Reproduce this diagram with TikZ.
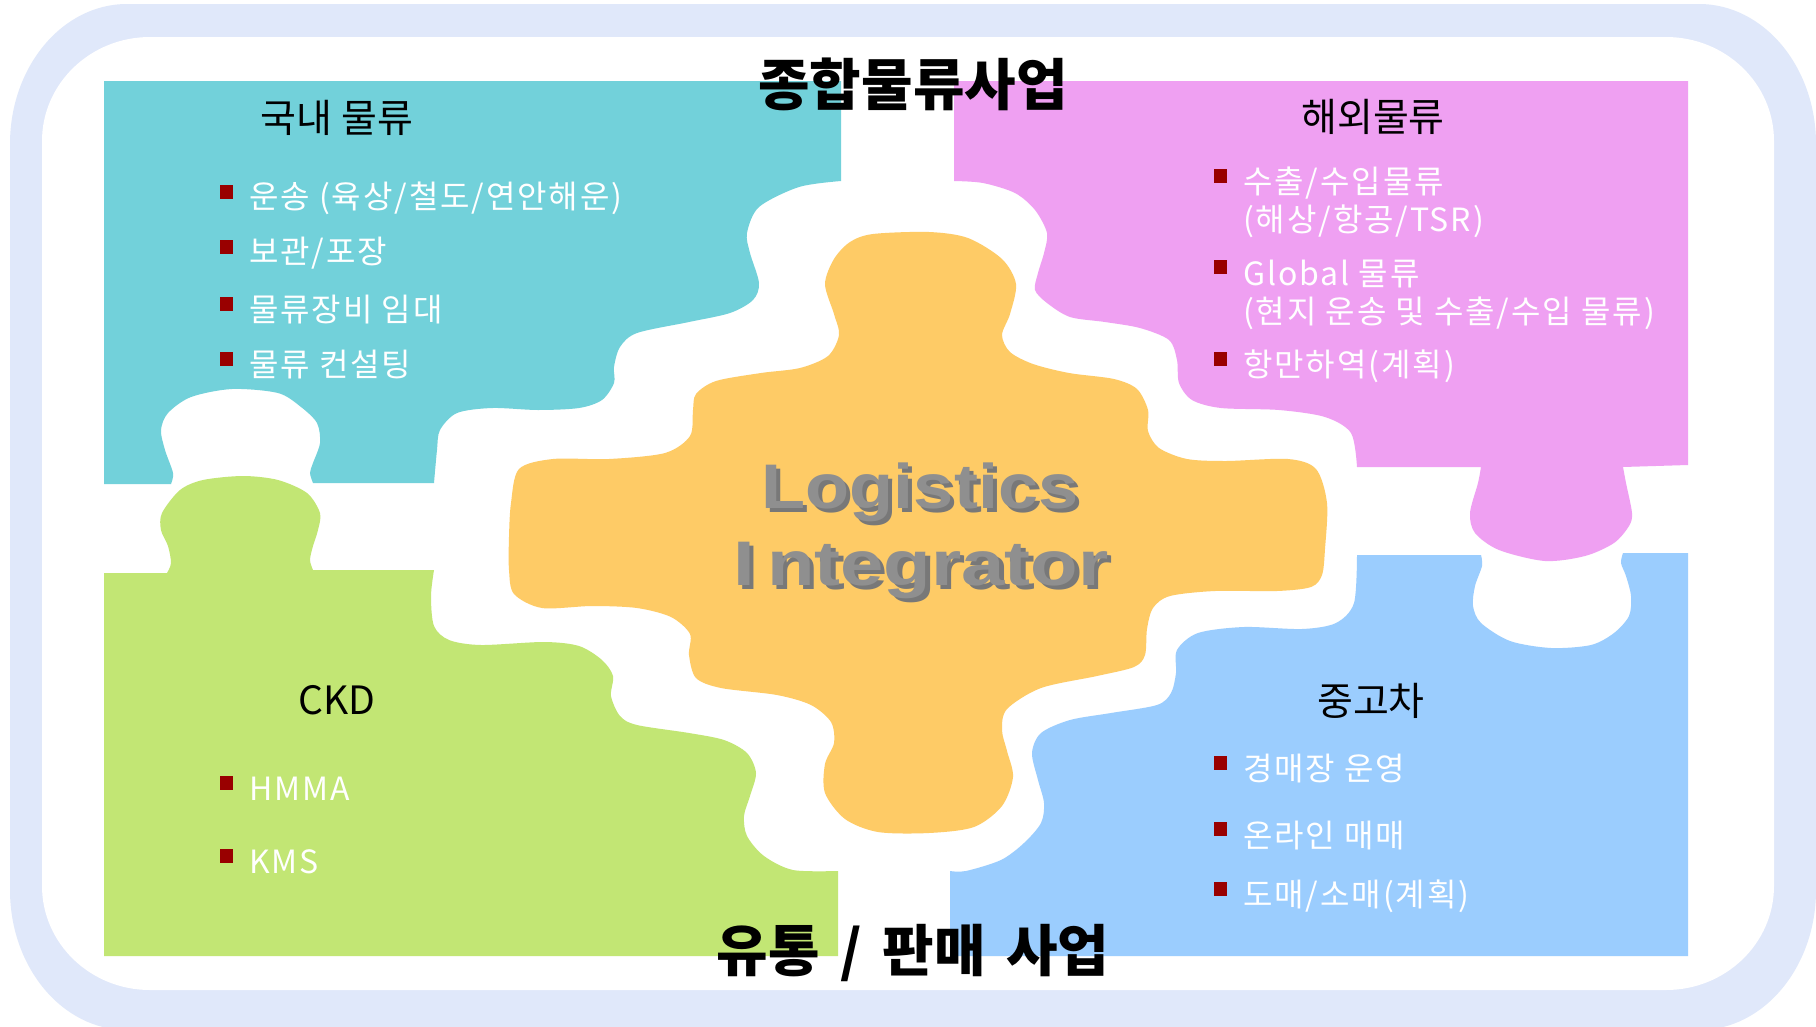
\documentclass[tikz,border=0pt]{standalone}
\usepackage{fontspec}
\setmainfont{Noto Sans CJK KR}
\newfontfamily\lgfont{Liberation Sans}
\newfontfamily\itemfont[LetterSpace=6]{Noto Sans CJK KR}
\newfontfamily\titlefont[WordSpace=1.6]{Noto Sans CJK KR}
\usepackage{graphicx}
\definecolor{framecol}{HTML}{E0E8FA}
\definecolor{tealp}{HTML}{72D1DA}
\definecolor{pinkp}{HTML}{EFA0F2}
\definecolor{greenp}{HTML}{C2E674}
\definecolor{bluep}{HTML}{9BCDFE}
\definecolor{orangep}{HTML}{FECB66}
\definecolor{bulred}{HTML}{990000}
\definecolor{lgfront}{HTML}{8F8F8F}
\definecolor{lgshadow}{HTML}{787878}
\newcommand{\shadowtext}[1]{\rlap{\kern3.5pt\raisebox{-4pt}{\textcolor{lgshadow}{#1}}}\textcolor{lgfront}{#1}}
\tikzset{
  head/.style={font=\fontsize{39}{44}\selectfont, text=black, inner sep=0pt},
  item/.style={font=\itemfont\fontsize{32}{36}\selectfont, text=white, anchor=west, inner sep=0pt},
  bul/.style={fill=bulred, minimum width=13pt, minimum height=14pt, inner sep=0pt, anchor=north west},
  bigtitle/.style={font=\titlefont\fontsize{56}{60}\selectfont\bfseries, text=black, inner sep=0pt},
  lgtext/.style={font=\fontsize{63}{66}\selectfont\lgfont\bfseries, inner sep=0pt, anchor=base},
}
\begin{document}
\begin{tikzpicture}[x=1pt,y=-1pt]
\useasboundingbox (0,0) rectangle (1816,1026);
\clip (0,0) rectangle (1816,1026);
\fill[white] (0,0) rectangle (1816,1026);
% frame
\fill[framecol] (127,4) -- (1699,4) .. controls (1763.6,4) and (1816,66.7) .. (1816,144)
  -- (1816,890) .. controls (1816,967.3) and (1763.6,1030) .. (1699,1030)
  -- (127,1030) .. controls (62.4,1030) and (10,967.3) .. (10,890)
  -- (10,144) .. controls (10,66.7) and (62.4,4) .. (127,4) -- cycle;
\fill[white] (150,37) -- (1666,37) .. controls (1725.6,37) and (1774,83.6) .. (1774,141)
  -- (1774,886) .. controls (1774,943.4) and (1725.6,990) .. (1666,990)
  -- (150,990) .. controls (90.4,990) and (42,943.4) .. (42,886)
  -- (42,141) .. controls (42,83.6) and (90.4,37) .. (150,37) -- cycle;
% teal piece
\fill[tealp] (104,81) -- (841,81) -- (841,181)
  -- plot[smooth] coordinates {(841,181) (799,187) (759,207) (747,233) (750,253) (759,283) (753,300) (730,313) (689,322) (637,333) (620,347) (614,367) (614,383) (602,400) (579,408) (538,410) (492,408) (457,413) (440,430) (437,450) (434,483)}
  -- (313,483)
  -- plot[smooth] coordinates {(313,483) (310,473) (313,463) (320,443) (317,423) (301,407) (278,393) (232,389) (191,397) (168,413) (161,430) (165,450) (173,473) (171,484)}
  -- (104,484) -- cycle;
% pink piece
\fill[pinkp] (954,81) -- (1688,81) -- (1688,465) -- (1623,467)
  -- plot[smooth] coordinates {(1623,467) (1626,483) (1632,513) (1629,526) (1614,543) (1585,556) (1545,561) (1499,550) (1475,533) (1470,513) (1478,483) (1481,467)}
  -- (1357,467)
  -- plot[smooth] coordinates {(1357,467) (1351,433) (1325,417) (1279,410) (1221,408) (1192,400) (1179,383) (1177,360) (1169,340) (1140,328) (1105,322) (1070,317) (1047,303) (1035,290) (1038,273) (1044,253) (1047,233) (1035,210) (1015,193) (983,183) (954,181)}
  -- cycle;
% green piece
\fill[greenp] (104,573) -- (167,573)
  -- plot[smooth] coordinates {(167,573) (171,563) (168,546) (161,530) (162,513) (180,490) (203,480) (243,476) (278,480) (307,493) (320,513) (318,530) (313,546) (310,560) (313,570)}
  -- (434,570)
  -- plot[smooth] coordinates {(434,570) (431,596) (434,626) (449,640) (481,645) (544,642) (579,646) (602,660) (613,676) (611,696) (620,716) (637,725) (689,733) (724,740) (747,753) (756,773) (750,796) (744,816) (747,836) (764,856) (793,870) (838,871)}
  -- (838,956) -- (104,956) -- cycle;
% blue piece
\fill[bluep] (1357,555) -- (1481,555)
  -- plot[smooth] coordinates {(1481,555) (1482,566) (1475,586) (1473,606) (1481,623) (1510,641) (1551,648) (1591,645) (1614,633) (1629,616) (1631,596) (1626,576) (1621,563) (1623,553)}
  -- (1688,553) -- (1688,956) -- (950,956) -- (950,871)
  -- plot[smooth] coordinates {(950,871) (966,871) (1001,860) (1024,843) (1041,823) (1044,803) (1038,780) (1032,753) (1041,733) (1070,720) (1111,713) (1157,705) (1171,693) (1176,673) (1177,650) (1198,633) (1244,627) (1302,629) (1336,623) (1354,603) (1357,555)}
  -- cycle;
% orange centre piece
\fill[orangep] plot[smooth cycle] coordinates {(873,234) (929,232) (968,238) (1002,259) (1016,284) (1010,314) (1002,335) (1010,352) (1033,364) (1069,373) (1114,379) (1137,389) (1148,410) (1148,431) (1159,448) (1187,459) (1226,461) (1288,459) (1316,469) (1327,503) (1325,549) (1322,575) (1311,587) (1277,591) (1215,591) (1170,596) (1153,608) (1147,629) (1145,655) (1134,667) (1097,676) (1041,688) (1007,709) (1002,730) (1007,751) (1013,777) (1002,806) (974,827) (929,833) (878,832) (845,819) (825,793) (825,764) (834,743) (831,722) (811,705) (777,695) (721,688) (696,678) (689,655) (690,634) (671,617) (637,608) (592,606) (542,608) (514,594) (509,570) (509,537) (511,503) (519,469) (553,459) (609,459) (665,453) (690,436) (693,410) (696,394) (716,381) (761,373) (800,368) (828,356) (839,335) (834,314) (825,284) (834,259) (850,242)};
% Logistics Integrator
\node[lgtext] (lg1) at (920,508) {\scalebox{1.145}[1]{\shadowtext{Logistics}}};
\node[lgtext] (lg2) at (921,585) {\scalebox{1.235}[1]{\shadowtext{I\kern10pt ntegrator}}};
% teal texts
\node[head] (h1) at (337,118) {국내 물류};
\node[bul] (b11) at (220,185) {};
\node[item] (t11) at (249,198) {운송 (육상/철도/연안해운)};
\node[bul] (b12) at (220,240) {};
\node[item] (t12) at (249,253) {보관/포장};
\node[bul] (b13) at (220,297) {};
\node[item] (t13) at (249,310) {물류장비 임대};
\node[bul] (b14) at (220,352) {};
\node[item] (t14) at (249,365) {물류 컨설팅};
% pink texts
\node[head] (h2) at (1373,117) {해외물류};
\node[bul] (b21) at (1214,169) {};
\node[item] (t21) at (1243,183) {수출/수입물류};
\node[item] (t22) at (1243,221) {(해상/항공/TSR)};
\node[bul] (b23) at (1214,260) {};
\node[item] (t23) at (1243,274) {Global 물류};
\node[item] (t24) at (1243,313) {(현지 운송 및 수출/수입 물류)};
\node[bul] (b25) at (1214,352) {};
\node[item] (t25) at (1243,366) {항만하역(계획)};
% green texts
\node[head] (h3) at (337,700) {CKD};
\node[bul] (b31) at (220,776) {};
\node[item] (t31) at (249,789) {HMMA};
\node[bul] (b32) at (220,849) {};
\node[item] (t32) at (249,862) {KMS};
% blue texts
\node[head] (h4) at (1371,701) {중고차};
\node[bul] (b41) at (1214,756) {};
\node[item] (t41) at (1243,769) {경매장 운영};
\node[bul] (b42) at (1214,822) {};
\node[item] (t42) at (1243,836) {온라인 매매};
\node[bul] (b43) at (1214,882) {};
\node[item] (t43) at (1243,896) {도매/소매(계획)};
% titles
\node[bigtitle] (top) at (913,84) {종합물류사업};
\node[bigtitle] (bottom) at (913,953) {유통 / 판매 사업};
\end{tikzpicture}
\end{document}
